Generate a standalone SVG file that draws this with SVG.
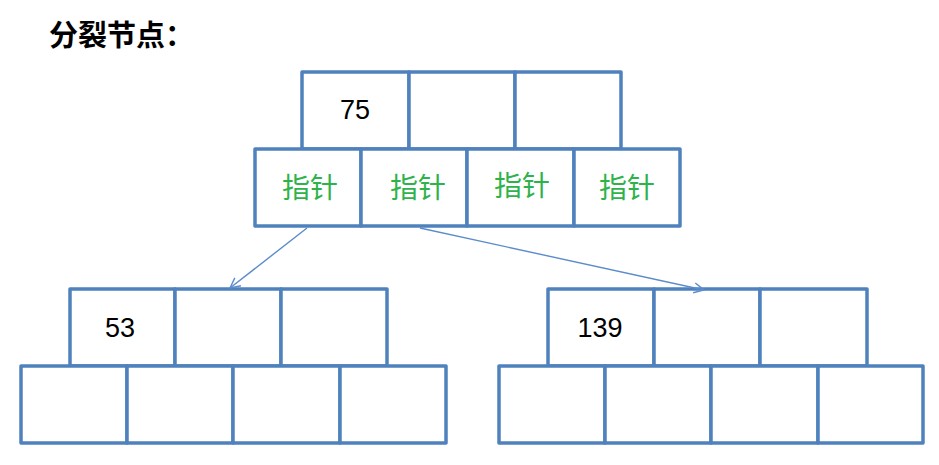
<svg xmlns="http://www.w3.org/2000/svg" width="939" height="465" viewBox="0 0 939 465">
<style>
.cell{fill:#fff;stroke:#4F81BD;stroke-width:3.5;stroke-linejoin:round}
.num{font-family:"Liberation Sans","Noto Sans",sans-serif;font-size:27px;fill:#000;text-anchor:middle}
.ptr{font-family:"Noto Sans CJK SC",sans-serif;font-size:28px;fill:#2EB34B;text-anchor:middle}
.title{font-family:"Noto Sans CJK SC",sans-serif;font-size:29px;font-weight:bold;fill:#000}
.conn{stroke:#5B8CCB;stroke-width:1.4;fill:none}
</style>
<defs>
<marker id="arr" markerUnits="userSpaceOnUse" markerWidth="14" markerHeight="14" refX="11" refY="6" orient="auto" viewBox="0 0 14 12">
<path d="M1,1 L11,6 L1,11" fill="none" stroke="#5B8CCB" stroke-width="1.4"/>
</marker>
</defs>
<rect width="939" height="465" fill="#fff"/>
<text class="title" x="49" y="46">分裂节点：</text>

<g id="root">
<rect class="cell" x="302" y="72" width="107" height="77"/>
<rect class="cell" x="409" y="72" width="106" height="77"/>
<rect class="cell" x="515" y="72" width="106" height="77"/>
<text class="num" x="355" y="119">75</text>
<rect class="cell" x="255" y="149" width="106" height="77"/>
<rect class="cell" x="361" y="149" width="106" height="77"/>
<rect class="cell" x="467" y="149" width="107" height="77"/>
<rect class="cell" x="574" y="149" width="106" height="77"/>
<text class="ptr" x="310" y="198">指针</text>
<text class="ptr" x="418" y="198">指针</text>
<text class="ptr" x="522" y="196">指针</text>
<text class="ptr" x="627" y="198">指针</text>
</g>

<g id="left">
<rect class="cell" x="70" y="289" width="105" height="77"/>
<rect class="cell" x="175" y="289" width="106" height="77"/>
<rect class="cell" x="281" y="289" width="106" height="77"/>
<text class="num" x="120" y="337">53</text>
<rect class="cell" x="21" y="366" width="106" height="77"/>
<rect class="cell" x="127" y="366" width="106" height="77"/>
<rect class="cell" x="233" y="366" width="107" height="77"/>
<rect class="cell" x="340" y="366" width="106" height="77"/>
</g>

<g id="right">
<rect class="cell" x="548" y="289" width="106" height="77"/>
<rect class="cell" x="654" y="289" width="106" height="77"/>
<rect class="cell" x="760" y="289" width="107" height="77"/>
<text class="num" x="600" y="337">139</text>
<rect class="cell" x="499" y="366" width="106" height="77"/>
<rect class="cell" x="605" y="366" width="106" height="77"/>
<rect class="cell" x="711" y="366" width="107" height="77"/>
<rect class="cell" x="818" y="366" width="105" height="77"/>
</g>

<g id="connectors">
<line class="conn" x1="307" y1="228" x2="230" y2="288" marker-end="url(#arr)"/>
<line class="conn" x1="420" y1="228" x2="704" y2="290" marker-end="url(#arr)"/>
</g>
</svg>
